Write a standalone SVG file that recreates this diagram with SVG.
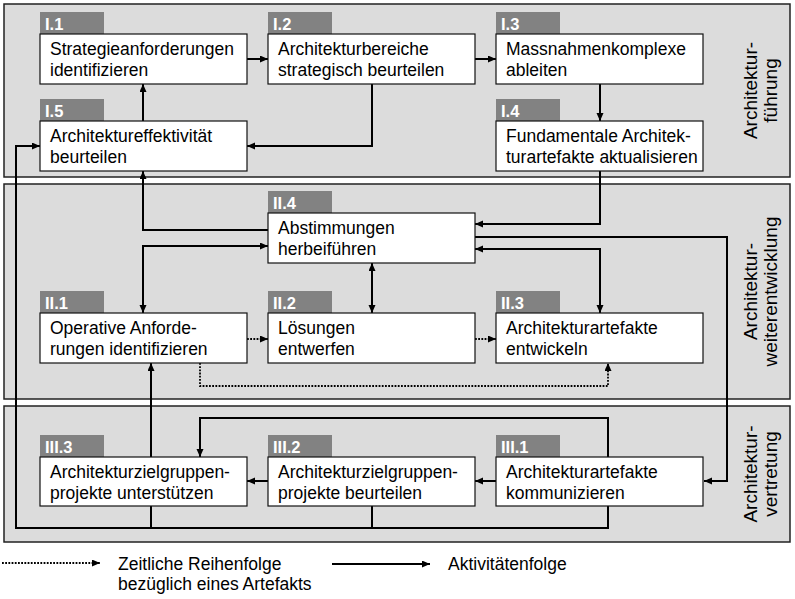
<svg xmlns="http://www.w3.org/2000/svg" width="795" height="599" viewBox="0 0 795 599">
<style>
.band{fill:#dcdcdc;stroke:#222;stroke-width:1.5}
.box{fill:#fff;stroke:#111;stroke-width:1.2}
.tag{fill:#828282}
.tagt{font-family:"Liberation Sans",Arial,sans-serif;font-size:16.5px;font-weight:bold;fill:#fff}
.t{font-family:"Liberation Sans",Arial,sans-serif;font-size:17.5px;fill:#000}
.lbl{font-family:"Liberation Sans",Arial,sans-serif;font-size:19px;fill:#000;text-anchor:middle}
.c{fill:none;stroke:#000;stroke-width:2}
.d{fill:none;stroke:#000;stroke-width:1.8;stroke-dasharray:1.8 1.4}
</style>
<defs>
<marker id="a" markerUnits="userSpaceOnUse" markerWidth="9" markerHeight="8" refX="8" refY="3.5" orient="auto-start-reverse">
<path d="M0,0 L8,3.5 L0,7 z" fill="#000"/>
</marker>
</defs>

<g id="bands">
<rect class="band" x="4" y="4" width="786" height="173"/>
<rect class="band" x="4" y="184" width="786" height="215"/>
<rect class="band" x="4" y="406" width="786" height="136"/>
</g>

<g id="band-labels">
<text class="lbl" transform="translate(757,90.5) rotate(-90)">Architektur-</text>
<text class="lbl" transform="translate(777,90.5) rotate(-90)">führung</text>
<text class="lbl" transform="translate(757,291.5) rotate(-90)">Architektur-</text>
<text class="lbl" transform="translate(777,291.5) rotate(-90)">weiterentwicklung</text>
<text class="lbl" transform="translate(757,474) rotate(-90)">Architektur-</text>
<text class="lbl" transform="translate(777,474) rotate(-90)">vertretung</text>
</g>

<g id="connectors">
<path class="c" d="M247,59 H268" marker-end="url(#a)"/>
<path class="c" d="M475,59 H496" marker-end="url(#a)"/>
<path class="c" d="M600,84 V121" marker-end="url(#a)"/>
<path class="c" d="M372,84 V146 H247" marker-end="url(#a)"/>
<path class="c" d="M143,121 V84" marker-end="url(#a)"/>
<path class="c" d="M608,506 V528 H16 V146 H40" marker-end="url(#a)"/>
<path class="c" d="M151,506 V528"/>
<path class="c" d="M372,506 V528"/>
<path class="c" d="M268,230 H143 V171" marker-end="url(#a)"/>
<path class="c" d="M600,171 V224 H475" marker-end="url(#a)"/>
<path class="c" d="M475,237 H727 V481 H704" marker-end="url(#a)"/>
<path class="c" d="M475,249 H600 V313" marker-start="url(#a)" marker-end="url(#a)"/>
<path class="c" d="M268,246 H143 V313" marker-start="url(#a)" marker-end="url(#a)"/>
<path class="c" d="M372,263 V313" marker-start="url(#a)" marker-end="url(#a)"/>
<path class="d" d="M247,339 H268" marker-end="url(#a)"/>
<path class="d" d="M475,339 H496" marker-end="url(#a)"/>
<path class="d" d="M200,363 V386 H608 V363" marker-end="url(#a)"/>
<path class="c" d="M151,457 V363" marker-end="url(#a)"/>
<path class="c" d="M268,481 H247" marker-end="url(#a)"/>
<path class="c" d="M496,481 H475" marker-end="url(#a)"/>
<path class="c" d="M608,457 V418 H200 V457" marker-end="url(#a)"/>
</g>

<g id="I1">
<rect class="tag" x="40" y="12" width="64" height="22"/><text class="tagt" x="45" y="30">I.1</text>
<rect class="box" x="40" y="34" width="207" height="50"/>
<text class="t" x="50" y="55">Strategieanforderungen</text><text class="t" x="50" y="76">identifizieren</text>
</g>
<g id="I2">
<rect class="tag" x="268" y="12" width="64" height="22"/><text class="tagt" x="273" y="30">I.2</text>
<rect class="box" x="268" y="34" width="207" height="50"/>
<text class="t" x="278" y="55">Architekturbereiche</text><text class="t" x="278" y="76">strategisch beurteilen</text>
</g>
<g id="I3">
<rect class="tag" x="496" y="12" width="64" height="22"/><text class="tagt" x="501" y="30">I.3</text>
<rect class="box" x="496" y="34" width="207" height="50"/>
<text class="t" x="506" y="55">Massnahmenkomplexe</text><text class="t" x="506" y="76">ableiten</text>
</g>
<g id="I4">
<rect class="tag" x="496" y="99" width="64" height="22"/><text class="tagt" x="501" y="117">I.4</text>
<rect class="box" x="496" y="121" width="207" height="50"/>
<text class="t" x="506" y="142">Fundamentale Architek-</text><text class="t" x="506" y="163">turartefakte aktualisieren</text>
</g>
<g id="I5">
<rect class="tag" x="40" y="99" width="64" height="22"/><text class="tagt" x="45" y="117">I.5</text>
<rect class="box" x="40" y="121" width="207" height="50"/>
<text class="t" x="50" y="142">Architektureffektivität</text><text class="t" x="50" y="163">beurteilen</text>
</g>

<g id="II4">
<rect class="tag" x="268" y="191" width="64" height="22"/><text class="tagt" x="273" y="209">II.4</text>
<rect class="box" x="268" y="213" width="207" height="50"/>
<text class="t" x="278" y="234">Abstimmungen</text><text class="t" x="278" y="255">herbeiführen</text>
</g>
<g id="II1">
<rect class="tag" x="40" y="291" width="64" height="22"/><text class="tagt" x="45" y="309">II.1</text>
<rect class="box" x="40" y="313" width="207" height="50"/>
<text class="t" x="50" y="334">Operative Anforde-</text><text class="t" x="50" y="355">rungen identifizieren</text>
</g>
<g id="II2">
<rect class="tag" x="268" y="291" width="64" height="22"/><text class="tagt" x="273" y="309">II.2</text>
<rect class="box" x="268" y="313" width="207" height="50"/>
<text class="t" x="278" y="334">Lösungen</text><text class="t" x="278" y="355">entwerfen</text>
</g>
<g id="II3">
<rect class="tag" x="496" y="291" width="64" height="22"/><text class="tagt" x="501" y="309">II.3</text>
<rect class="box" x="496" y="313" width="207" height="50"/>
<text class="t" x="506" y="334">Architekturartefakte</text><text class="t" x="506" y="355">entwickeln</text>
</g>

<g id="III3">
<rect class="tag" x="40" y="435" width="64" height="22"/><text class="tagt" x="45" y="453">III.3</text>
<rect class="box" x="40" y="457" width="207" height="49"/>
<text class="t" x="50" y="478">Architekturzielgruppen-</text><text class="t" x="50" y="499">projekte unterstützen</text>
</g>
<g id="III2">
<rect class="tag" x="268" y="435" width="64" height="22"/><text class="tagt" x="273" y="453">III.2</text>
<rect class="box" x="268" y="457" width="207" height="49"/>
<text class="t" x="278" y="478">Architekturzielgruppen-</text><text class="t" x="278" y="499">projekte beurteilen</text>
</g>
<g id="III1">
<rect class="tag" x="496" y="435" width="64" height="22"/><text class="tagt" x="501" y="453">III.1</text>
<rect class="box" x="496" y="457" width="207" height="49"/>
<text class="t" x="506" y="478">Architekturartefakte</text><text class="t" x="506" y="499">kommunizieren</text>
</g>

<g id="legend">
<path class="d" d="M2,563 H100" marker-end="url(#a)"/>
<text class="t" x="118" y="570">Zeitliche Reihenfolge</text>
<text class="t" x="118" y="590">bezüglich eines Artefakts</text>
<path class="c" d="M332,564 H430" marker-end="url(#a)"/>
<text class="t" x="448" y="570">Aktivitätenfolge</text>
</g>
</svg>
